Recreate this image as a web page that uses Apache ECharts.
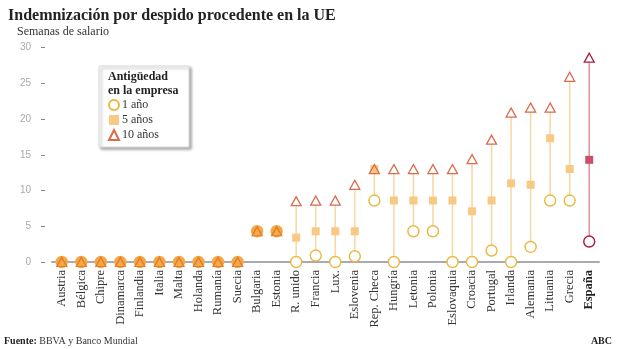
<!DOCTYPE html>
<html>
<head>
<meta charset="utf-8">
<script src="https://cdn.jsdelivr.net/npm/echarts@6/dist/echarts.min.js"></script>
<style>
  html, body { margin: 0; padding: 0; background: #fff; }
  #chart { width: 620px; height: 349px; }
</style>
</head>
<body>
<div id="chart"></div>
<script>
// Severance for fair dismissal, in weeks of salary, by seniority
const countries = ['Austria', 'Bélgica', 'Chipre', 'Dinamarca', 'Finlandia', 'Italia', 'Malta', 'Holanda',
  'Rumanía', 'Suecia', 'Bulgaria', 'Estonia', 'R. unido', 'Francia', 'Lux.', 'Eslovenia', 'Rep. Checa',
  'Hungría', 'Letonia', 'Polonia', 'Eslovaquia', 'Croacia', 'Portugal', 'Irlanda', 'Alemania',
  'Lituania', 'Grecia', 'España'];
const oneYear   = [0, 0, 0, 0, 0, 0, 0, 0, 0, 0, 4.3, 4.3, 0, 0.9, 0, 0.8, 8.6, 0, 4.3, 4.3, 0, 0, 1.6, 0, 2.1, 8.6, 8.6, 2.86];
const fiveYears = [0, 0, 0, 0, 0, 0, 0, 0, 0, 0, 4.3, 4.3, 3.4, 4.3, 4.3, 4.3, 13, 8.6, 8.6, 8.6, 8.6, 7.1, 8.6, 11, 10.8, 17.3, 13, 14.29];
const tenYears  = [0, 0, 0, 0, 0, 0, 0, 0, 0, 0, 4.3, 4.3, 8.5, 8.6, 8.6, 10.8, 13, 13, 13, 13, 13, 14.4, 17.1, 20.9, 21.6, 21.6, 25.9, 28.57];
const seriesNames = ['1 año', '5 años', '10 años'];
const yMin = 0, yMax = 30, yStep = 5;
const highlight = 'España';

const C = {
  circle: '#e8b941', square: '#f8c982', triangle: '#d96a4c', stem: '#f9d7a2',
  merged: '#f4a846', mergedEdge: '#e27b2c',
  hiCircle: '#a9193c', hiSquare: '#c7506a', hiTriangle: '#a8213f', hiStem: '#e6909f'
};
const serif = '"Liberation Serif", "DejaVu Serif", serif';

const isHi = i => countries[i] === highlight;
const allSame = i => oneYear[i] === fiveYears[i] && fiveYears[i] === tenYears[i];

const circleData = oneYear.map((v, i) => ({
  value: v,
  itemStyle: isHi(i) ? { color: '#fff', borderColor: C.hiCircle }
    : allSame(i) ? { color: C.merged, borderColor: C.merged } : {}
}));
const squareData = fiveYears.map((v, i) => ({
  value: v,
  itemStyle: isHi(i) ? { color: C.hiSquare } : allSame(i) ? { color: C.merged } : {}
}));
const triangleData = tenYears.map((v, i) => ({
  value: v,
  itemStyle: isHi(i) ? { color: '#fff', borderColor: C.hiTriangle }
    : allSame(i) ? { color: 'transparent', borderColor: C.mergedEdge }
    : (v === fiveYears[i]) ? { color: 'transparent' } : {}
}));
const stemData = countries.map((c, i) => [i,
  Math.min(oneYear[i], fiveYears[i], tenYears[i]),
  Math.max(oneYear[i], fiveYears[i], tenYears[i])]);

const chart = echarts.init(document.getElementById('chart'), null, { renderer: 'canvas' });
chart.setOption({
  animation: false,
  backgroundColor: '#fff',
  title: [
    { text: 'Indemnización por despido procedente en la UE', left: 8, top: 8, padding: 0,
      textStyle: { fontFamily: serif, fontSize: 16, fontWeight: 'bold', color: '#222' } },
    { text: 'Semanas de salario', left: 17, top: 26, padding: 0,
      textStyle: { fontFamily: serif, fontSize: 12, fontWeight: 'normal', color: '#333' } },
    { text: 'Antigüedad\nen la empresa', left: 108, top: 70, padding: 0,
      textStyle: { fontFamily: serif, fontSize: 12, fontWeight: 'bold', color: '#222', lineHeight: 14 } },
    { text: '{b|Fuente:} BBVA y Banco Mundial', left: 4, top: 336, padding: 0,
      textStyle: { fontFamily: serif, fontSize: 10, fontWeight: 'normal', color: '#333',
        rich: { b: { fontFamily: serif, fontSize: 10, fontWeight: 'bold', color: '#222' } } } },
    { text: 'ABC', right: 8, top: 336, padding: 0,
      textStyle: { fontFamily: serif, fontSize: 10, fontWeight: 'bold', color: '#222' } }
  ],
  legend: {
    data: seriesNames,
    orient: 'vertical', left: 99, top: 66,
    padding: [33, 30, 6, 9],
    itemWidth: 10, itemHeight: 10, itemGap: 3,
    backgroundColor: '#fff', borderColor: '#ddd', borderWidth: 1,
    shadowColor: 'rgba(0,0,0,0.35)', shadowBlur: 3, shadowOffsetX: 2, shadowOffsetY: 2,
    textStyle: { fontFamily: serif, fontSize: 12, color: '#333', padding: [0, 0, 0, -2] }
  },
  grid: { left: 52, right: 21, top: 47.5, bottom: 87 },
  xAxis: {
    type: 'category', data: countries, boundaryGap: true,
    axisLine: { lineStyle: { color: '#aaaab2', width: 2 } },
    axisTick: { show: false },
    axisLabel: {
      rotate: 90, interval: 0, margin: 8, fontFamily: serif, fontSize: 12.5, color: '#333',
      formatter: v => v === highlight ? '{b|' + v + '}' : v,
      rich: { b: { fontFamily: serif, fontSize: 12.5, fontWeight: 'bold', color: '#222' } }
    }
  },
  yAxis: {
    type: 'value', min: yMin, max: yMax, interval: yStep, offset: 7,
    axisLine: { show: false },
    axisTick: { show: true, length: 4, lineStyle: { color: '#888', width: 1 } },
    splitLine: { show: false },
    axisLabel: { margin: 14, fontFamily: '"Liberation Sans", sans-serif', fontSize: 10, color: '#aaa' }
  },
  series: [
    {
      type: 'custom', name: 'rango', data: stemData, z: 1, silent: true,
      encode: { x: 0, y: [1, 2] },
      renderItem: (params, api) => {
        const i = api.value(0);
        const a = api.coord([i, api.value(1)]);
        const b = api.coord([i, api.value(2)]);
        return { type: 'line', shape: { x1: a[0], y1: a[1], x2: b[0], y2: b[1] },
          style: { stroke: isHi(i) ? C.hiStem : C.stem, lineWidth: 1.5 } };
      }
    },
    {
      type: 'scatter', name: seriesNames[0], data: circleData, z: 2,
      symbol: 'circle', symbolSize: 11,
      itemStyle: { color: '#fff', borderColor: C.circle, borderWidth: 1.4, opacity: 1 }
    },
    {
      type: 'scatter', name: seriesNames[1], data: squareData, z: 3,
      symbol: 'rect', symbolSize: 8,
      itemStyle: { color: C.square, opacity: 1 }
    },
    {
      type: 'scatter', name: seriesNames[2], data: triangleData, z: 4,
      symbol: 'triangle', symbolSize: [10, 9],
      itemStyle: { color: '#fff', borderColor: C.triangle, borderWidth: 1.3, opacity: 1 }
    }
  ]
});
</script>
</body>
</html>
